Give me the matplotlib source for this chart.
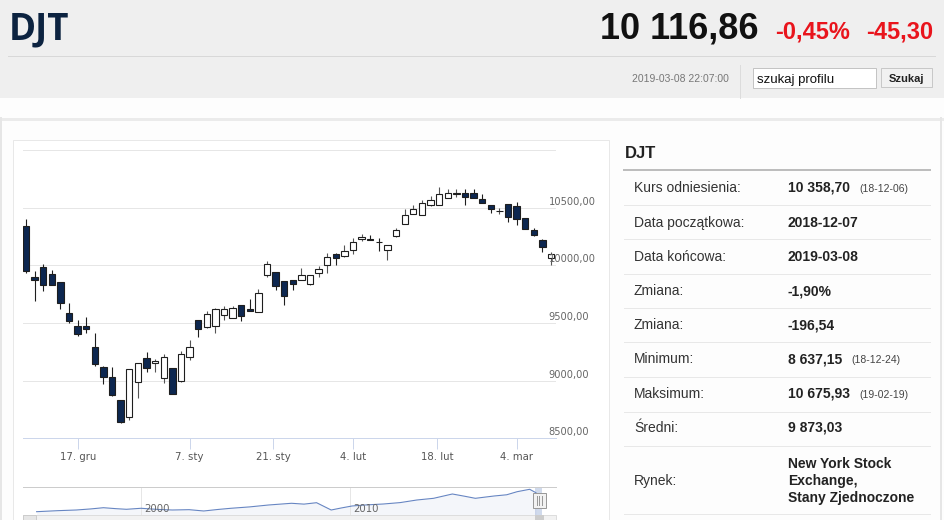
import matplotlib
matplotlib.use("Agg")
import matplotlib.pyplot as plt
from matplotlib.patches import Rectangle

# ---- candle data (ordinal trading days 2018-12-07 .. 2019-03-08)
opens = [10340, 9899, 9983, 9925, 9859, 9586, 9470, 9470, 9296, 9117,
         9030, 8833, 8688, 8989, 9195, 9151, 9021, 9108, 8998, 9209,
         9529, 9462, 9471, 9572, 9543, 9653, 9618, 9595, 9914, 9943,
         9868, 9877, 9877, 9839, 9934, 10001, 10094, 10079, 10137, 10224,
         10230, 10203, 10137, 10253, 10360, 10447, 10436, 10523, 10523, 10587,
         10622, 10630, 10624, 10572, 10520, 10469, 10534, 10514, 10413, 10305,
         10218, 10065]
highs = [10398, 9949, 10015, 9963, 9859, 9673, 9528, 9549, 9412, 9128,
         9122, 8833, 9099, 9151, 9247, 9189, 9233, 9108, 9253, 9354,
         9529, 9607, 9630, 9650, 9650, 9653, 9711, 9795, 10036, 9943,
         9868, 9877, 9978, 9920, 9992, 10108, 10108, 10172, 10239, 10268,
         10262, 10239, 10175, 10326, 10485, 10523, 10566, 10601, 10676, 10659,
         10659, 10659, 10659, 10616, 10520, 10500, 10534, 10549, 10413, 10320,
         10224, 10114]
lows = [9934, 9688, 9781, 9830, 9621, 9499, 9389, 9412, 9131, 8972,
        8867, 8630, 8659, 8847, 9079, 9079, 8983, 8882, 8986, 9180,
        9375, 9456, 9413, 9529, 9543, 9520, 9601, 9595, 9897, 9790,
        9653, 9790, 9877, 9833, 9900, 9934, 10001, 10074, 10094, 10210,
        10221, 10123, 10050, 10247, 10360, 10442, 10436, 10514, 10523, 10581,
        10595, 10520, 10587, 10537, 10450, 10442, 10375, 10349, 10311, 10253,
        10114, 10007]
closes = [9949, 9873, 9833, 9833, 9673, 9514, 9404, 9447, 9146, 9035,
          8876, 8638, 9099, 9151, 9108, 9172, 9204, 8882, 9230, 9296,
          9447, 9578, 9624, 9621, 9630, 9558, 9601, 9758, 10013, 9824,
          9732, 9842, 9920, 9920, 9972, 10074, 10065, 10123, 10204, 10247,
          10221, 10199, 10175, 10305, 10433, 10491, 10537, 10566, 10616, 10624,
          10626, 10592, 10587, 10537, 10491, 10473, 10421, 10398, 10311, 10259,
          10157, 10102]

tick_pos = [6, 19, 28.75, 38, 47.75, 57]
tick_labels = ["17. gru", "7. sty", "21. sty", "4. lut", "18. lut", "4. mar"]
y_grid = [8500, 9000, 9500, 10000, 10500, 11000]
y_labels = ["8500,00", "9000,00", "9500,00", "10000,00", "10500,00"]

# ---- navigator (long history)
nav_years = [1995.0, 1996.0, 1996.9, 1997.6, 1998.2, 1998.8, 1999.3, 2000.0,
             2000.8, 2001.5, 2002.3, 2003.0, 2003.7, 2004.3, 2005.2, 2006.1,
             2007.2, 2007.8, 2008.4, 2009.1, 2009.6, 2010.1, 2010.8, 2011.6,
             2012.4, 2013.2, 2014.0, 2014.9, 2015.5, 2016.0, 2016.9, 2017.5,
             2018.0, 2018.6, 2018.9]
nav_vals = [1500, 1900, 2170, 2600, 3080, 2700, 2450, 2850,
            2400, 2170, 2300, 1780, 2400, 2850, 3400, 4150,
            4830, 4500, 5060, 2170, 3000, 3760, 4200, 4550,
            5100, 6130, 6800, 8510, 7600, 6800, 7720, 8200,
            9420, 10370, 9020]
nav_ticks = [2000, 2010]

# ---- side table
row_labels = ["Kurs odniesienia:", "Data początkowa:", "Data końcowa:", "Zmiana:",
              "Zmiana:", "Minimum:", "Maksimum:", "Średni:", "Rynek:"]
row_values = ["10 358,70", "2018-12-07", "2019-03-08", "-1,90%", "-196,54",
              "8 637,15", "10 675,93", "9 873,03",
              "New York Stock\nExchange,\nStany Zjednoczone"]
row_notes = ["(18-12-06)", "", "", "", "", "(18-12-24)", "(19-02-19)", "", ""]
row_y = [188, 223, 257, 291, 325, 359, 394, 428, 481]
row_sep = [205, 239, 274, 308, 342, 377, 412, 446, 514]

W, H = 945, 520
PX = 0.72  # one pixel in points at dpi 100
SANS = "Liberation Sans"

fig = plt.figure(figsize=(W / 100, H / 100), dpi=100)
fig.patch.set_facecolor("#fdfdfd")


def overlay(label):
    a = fig.add_axes([0, 0, 1, 1], label=label)
    a.set_xlim(0, W)
    a.set_ylim(H, 0)
    a.set_axis_off()
    a.patch.set_alpha(0)
    return a


def px_axes(x0, y0, x1, y1):
    return fig.add_axes([x0 / W, 1 - y1 / H, (x1 - x0) / W, (y1 - y0) / H])


bg = overlay("bg")

# header
bg.add_patch(Rectangle((0, 0), W, 98, color="#efefef", lw=0))
bg.plot([8, 935], [56, 56], color="#d8d8d8", lw=PX)
bg.text(9, 29, "DJT", family="Open Sans", weight="bold", fontsize=26.5,
        color="#0c2340", va="center", ha="left")
bg.text(758, 29, "10 116,86", family=SANS, weight="bold", fontsize=26,
        color="#111111", va="center", ha="right")
bg.text(775, 32, "-0,45%", family=SANS, weight="bold", fontsize=17,
        color="#e9141c", va="center", ha="left")
bg.text(933, 32, "-45,30", family=SANS, weight="bold", fontsize=17,
        color="#e9141c", va="center", ha="right")
bg.text(729, 79, "2019-03-08 22:07:00", family=SANS, fontsize=7.5,
        color="#777777", va="center", ha="right")
bg.plot([740, 740], [65, 98], color="#dcdcdc", lw=PX)
bg.add_patch(Rectangle((753, 68), 123, 20, facecolor="white",
                       edgecolor="#c4c4c4", lw=PX))
bg.text(757, 79.5, "szukaj profilu", family=SANS, fontsize=9.5,
        color="#111111", va="center", ha="left")
bg.add_patch(Rectangle((881, 68), 51, 19, facecolor="#f1f1f1",
                       edgecolor="#c8c8c8", lw=PX))
bg.text(906.5, 78.5, "Szukaj", family=SANS, weight="bold", fontsize=8,
        color="#222222", va="center", ha="center")

# page panels
bg.add_patch(Rectangle((0, 118), W, 3, color="#ebebeb", lw=0))
bg.plot([1, 1], [118, H], color="#e6e6e6", lw=2 * PX)
bg.plot([941, 941], [118, H], color="#e6e6e6", lw=2 * PX)
bg.add_patch(Rectangle((12.5, 140), 596.5, 400, facecolor="white",
                       edgecolor="#e8e8e8", lw=PX))

# side table
bg.text(625, 153, "DJT", family=SANS, weight="bold", fontsize=12,
        color="#222222", va="center", ha="left")
bg.plot([624, 930], [170, 170], color="#bdbdbd", lw=2 * PX)
for lab, val, note, ry, sy in zip(row_labels, row_values, row_notes, row_y, row_sep):
    bg.text(634, ry, lab, family=SANS, fontsize=10, color="#333333",
            va="center", ha="left")
    t = bg.text(788, ry, val, family=SANS, weight="bold", fontsize=10,
                color="#222222", va="center", ha="left", linespacing=1.25)
    if note:
        bg.annotate(note, xy=(1, 0.5), xycoords=t, xytext=(6.5, -0.5),
                    textcoords="offset points", family=SANS, fontsize=7.5,
                    color="#444444", va="center", ha="left")
    bg.plot([624, 930], [sy, sy], color="#e8e8e8", lw=PX)

# ---- candle chart
ax = px_axes(23, 150, 556, 438.3)
ax.patch.set_alpha(0)
x = list(range(len(opens)))
ax.set_xlim(-0.35, len(opens) - 0.42)
ax.set_ylim(y_grid[0], y_grid[-1])
for v in y_grid:
    ax.axhline(v, color="#e6e6e6", lw=PX, zorder=0)
for s in ["top", "right", "left"]:
    ax.spines[s].set_visible(False)
ax.spines["bottom"].set_color("#ccd6eb")
ax.spines["bottom"].set_linewidth(PX)
ax.spines["bottom"].set_zorder(1)

up = [c >= o for o, c in zip(opens, closes)]
bottoms = [min(o, c) for o, c in zip(opens, closes)]
heights = [max(abs(c - o), 6) for o, c in zip(opens, closes)]
ax.vlines(x, lows, highs, color=["#555555" if u else "#1e1e1e" for u in up],
          lw=PX * 1.1, zorder=2)
ax.bar(x, heights, bottom=bottoms, width=0.74,
       color=["white" if u else "#0d2750" for u in up],
       edgecolor="#1e1e1e", linewidth=PX * 1.1, zorder=3)

ax.set_yticks([])
ax.set_xticks(tick_pos)
ax.set_xticklabels(tick_labels, family="DejaVu Sans", fontsize=7.3,
                   color="#555555")
ax.tick_params(axis="x", length=8, width=PX, color="#ccd6eb", pad=2)
ytrans = ax.get_yaxis_transform()
for v, lab in zip(y_grid, y_labels):
    ax.text(0.9865, v + 8, lab, transform=ytrans, family="DejaVu Sans",
            fontsize=7.1, color="#666666", va="bottom", ha="left",
            clip_on=False)

# ---- navigator
nav = px_axes(23, 487, 556, 520)
nav.set_xlim(1994.35, 2019.86)
nav.set_ylim(-1790, 11280)
nav.set_facecolor("white")
for s in nav.spines.values():
    s.set_visible(False)
nav.set_xticks([])
nav.set_yticks([])
for yr in nav_ticks:
    nav.axvline(yr, color="#e6e6e6", lw=PX)
    nav.text(yr + 0.15, 2600, str(yr), family="DejaVu Sans", fontsize=7.3,
             color="#666666", va="center", ha="left")
nav.fill_between(nav_years, nav_vals, -1790, color="#335cad", alpha=0.05, lw=0)
nav.plot(nav_years, nav_vals, color="#6685c2", lw=PX * 1.1)
nav.axvspan(2018.86, 2019.19, color="#6685c2", alpha=0.3, lw=0)

fg = overlay("fg")
fg.plot([23, 556], [487, 487], color="#cccccc", lw=PX)
fg.add_patch(Rectangle((532.5, 493), 13, 15, facecolor="#f2f2f2",
                       edgecolor="#999999", lw=PX))
for hx in [536.5, 539, 541.5]:
    fg.plot([hx, hx], [496, 505], color="#999999", lw=PX)
fg.add_patch(Rectangle((23, 515), 533, 8, facecolor="#f2f2f2",
                       edgecolor="#dddddd", lw=PX))
fg.add_patch(Rectangle((23, 515), 13, 8, facecolor="#e6e6e6",
                       edgecolor="#cccccc", lw=PX))
fg.add_patch(Rectangle((535, 515), 8, 8, facecolor="#cccccc",
                       edgecolor="#cccccc", lw=PX))

fig.savefig("out.png", dpi=100, facecolor=fig.get_facecolor())
